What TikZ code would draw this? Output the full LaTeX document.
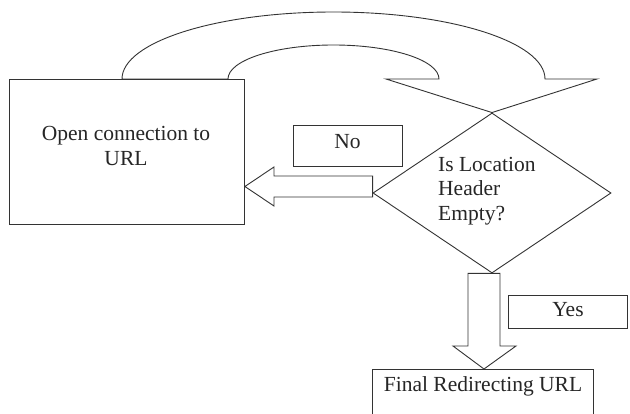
\documentclass[tikz,border=0pt]{standalone}
\usepackage{fontspec}
\setmainfont{Liberation Serif}
\usetikzlibrary{shapes.geometric,calc}
\begin{document}
\begin{tikzpicture}[x=1pt,y=-1pt,
  ln/.style={draw=black!80,line width=0.9pt,line join=miter},
  boxshape/.style={ln,rectangle,inner sep=0pt,anchor=north west},
  txt/.style={font=\fontsize{21.5}{24.5}\selectfont,text=black!85,inner sep=0pt,align=center},
  blockarrow/.style={ln,fill=white}]
\clip (0,0) rectangle (630,414);
\fill[white] (0,0) rectangle (630,414);

% process boxes
\node[boxshape,minimum width=235pt,minimum height=145pt] (open) at (9,79) {};
\node[txt] (opentext) at (126,146) {Open connection to\\URL};

\node[boxshape,minimum width=109pt,minimum height=41pt] (no) at (293,125) {};
\node[txt] (notext) at (347.5,142) {No};

\node[boxshape,minimum width=119pt,minimum height=33pt] (yes) at (508,295) {};
\node[txt] (yestext) at (568,310) {Yes};

\node[boxshape,minimum width=221pt,minimum height=70pt] (final) at (372,369) {};
\node[txt] (finaltext) at (483,386) {Final Redirecting URL};

% decision
\node[ln,diamond,inner sep=0pt,minimum width=238pt,minimum height=160pt] (check) at (492,193) {};
\node[txt,align=left,anchor=west] (checktext) at (438,191) {Is Location\\Header\\Empty?};

% U-turn block arrow from the box top back down onto the diamond
\coordinate (uL) at (open.north -| 122,0);
\draw[blockarrow] (uL) arc[start angle=180,end angle=0,x radius=211.5pt,y radius=67pt]
  -- (597,79) -- (check.north) -- (386,79) -- (439,79)
  arc[start angle=0,end angle=180,x radius=105.5pt,y radius=34pt] -- cycle;

% "No" block arrow into the box
\coordinate (noTip) at (open.east |- 0,186.5);
\draw[blockarrow] (check.west |- 0,176) -- (274,176) -- (274,167) -- (noTip)
  -- (274,206) -- (274,197) -- (check.west |- 0,197) -- cycle;

% "Yes" block arrow down to the final box
\coordinate (yesTip) at (484,0 |- final.north);
\draw[blockarrow] (468,0 |- check.south) -- (500,0 |- check.south) -- (500,346) -- (516,346)
  -- (yesTip) -- (453,346) -- (468,346) -- cycle;
\end{tikzpicture}
\end{document}
